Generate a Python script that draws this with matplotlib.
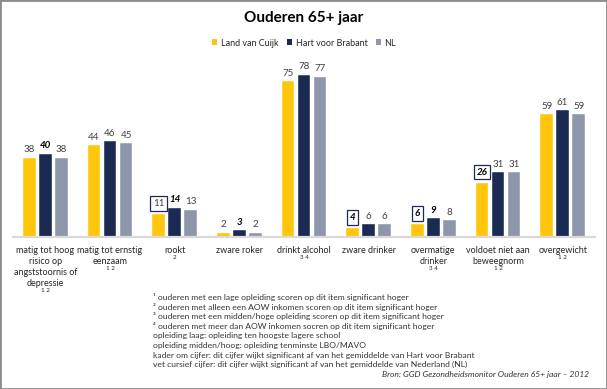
import numpy as np
import matplotlib
matplotlib.use("Agg")
import matplotlib.pyplot as plt
from matplotlib.patches import Patch, Rectangle

plt.rcParams['font.family'] = ['Lato', 'DejaVu Sans']

# data
categories = ["matig tot hoog\nrisico op\nangststoornis of\ndepressie",
              "matig tot ernstig\neenzaam", "rookt", "zware roker",
              "drinkt alcohol", "zware drinker", "overmatige\ndrinker",
              "voldoet niet aan\nbeweegnorm", "overgewicht"]
sup_marks = ["1 2", "1 2", "2", "", "3 4", "", "3 4", "1 2", "1 2"]
series_names = ["Land van Cuijk", "Hart voor Brabant", "NL"]
land_van_cuijk = [38, 44, 11, 2, 75, 4, 6, 26, 59]
hart_voor_brabant = [40, 46, 14, 3, 78, 6, 9, 31, 61]
nl = [38, 45, 13, 2, 77, 6, 8, 31, 59]
# (series index, category index) of special labels
boxed = [(0, 2), (0, 5), (0, 6), (0, 7)]
bold_italic = [(1, 0), (1, 2), (1, 3), (0, 5), (1, 6), (0, 6), (0, 7)]

footnotes = [
    "\u00b9 ouderen met een lage opleiding scoren op dit item significant hoger",
    "\u00b2 ouderen met alleen een AOW inkomen scoren op dit item significant hoger",
    "\u00b3 ouderen met een midden/hoge opleiding scoren op dit item significant hoger",
    "\u2074 ouderen met meer dan AOW inkomen socren op dit item significant hoger",
    "opleiding laag: opleiding ten hoogste lagere school",
    "opleiding midden/hoog: opleiding tenminste LBO/MAVO",
    "kader om cijfer: dit cijfer wijkt significant af van het gemiddelde van Hart voor Brabant",
    "vet cursief cijfer: dit cijfer wijkt significant af van het gemiddelde van Nederland (NL)",
]
source = "Bron: GGD Gezondheidsmonitor Ouderen 65+ jaar \u2013 2012"

colors = ["#FFC60B", "#1B2A52", "#8D96AA"]

W, H = 607, 389
fig = plt.figure(figsize=(W / 100, H / 100), dpi=100)
ax = fig.add_axes([13 / W, 1 - 236.7 / H, 582 / W, 186.7 / H])

x = np.arange(len(categories))
width = 0.195
offsets = [-0.248, 0, 0.248]
all_series = [land_van_cuijk, hart_voor_brabant, nl]
for s, (vals, col) in enumerate(zip(all_series, colors)):
    ax.bar(x + offsets[s], vals, width, color=col, edgecolor='white',
           linewidth=0.3, zorder=2)
    for i, v in enumerate(vals):
        bi = (s, i) in bold_italic
        kw = dict(ha='center', va='bottom', fontsize=7,
                  color='black' if bi else '#404040',
                  fontweight='bold' if bi else 'normal',
                  fontstyle='italic' if bi else 'normal')
        if (s, i) in boxed:
            kw['bbox'] = dict(boxstyle='square,pad=0.3', fc='white',
                              ec='#1B2A52', lw=0.9)
            dy = 4.5
        else:
            dy = 2.5
        ax.annotate(str(v), (x[i] + offsets[s], v), xytext=(0, dy),
                    textcoords='offset points', **kw)

ax.set_xlim(-0.5, len(categories) - 0.5)
ax.set_ylim(0, 90)
ax.set_xticks(x)
ax.set_xticklabels(categories, fontsize=6.5, color='#262626', linespacing=1.3)
ax.tick_params(axis='x', length=0, pad=6.5)
ax.set_yticks([])
for sp in ['top', 'left', 'right']:
    ax.spines[sp].set_visible(False)
ax.spines['bottom'].set_color('#D9D9D9')
ax.spines['bottom'].set_linewidth(1.6)

# small footnote marks under the category labels
for i, (lab, mark) in enumerate(zip(categories, sup_marks)):
    if not mark:
        continue
    n = lab.count("\n") + 1
    ax.annotate(mark, (x[i], 0), xycoords=('data', 'axes fraction'),
                xytext=(0, -(10 + 11 * n) * 0.72), textcoords='offset points',
                ha='center', va='center', fontsize=4.5, color='#262626')

fig.text(0.5, 1 - 18 / H, "Ouderen 65+ jaar", ha='center', va='center',
         fontsize=11, fontweight='bold', color='black')

handles = [Patch(facecolor=c, edgecolor='none') for c in colors]
fig.legend(handles, series_names, loc='center', bbox_to_anchor=(304 / W, 1 - 43 / H),
           ncol=3, frameon=False, fontsize=6.5, handlelength=0.6, handleheight=0.6,
           handletextpad=0.4, columnspacing=0.9, labelcolor='#262626')

for k, line in enumerate(footnotes):
    fig.text(153 / W, 1 - (297 + 9.7 * k) / H, line, ha='left', va='center',
             fontsize=6.1, color='#333333')
fig.text(589 / W, 1 - 375 / H, source, ha='right', va='center',
         fontsize=6.1, fontstyle='italic', color='#333333')

fig.add_artist(Rectangle((0, 0), 1, 1, transform=fig.transFigure, fill=False,
                         edgecolor='#8C8C8C', linewidth=2))

fig.savefig("out.png", dpi=100)
